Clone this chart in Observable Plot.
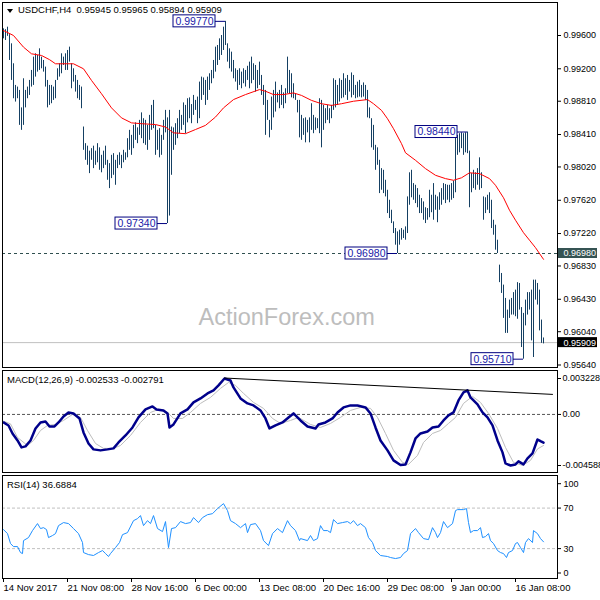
<!DOCTYPE html>
<html><head><meta charset="utf-8">
<script src="https://cdn.jsdelivr.net/npm/d3@7"></script>
<script src="https://cdn.jsdelivr.net/npm/@observablehq/plot@0.6"></script>
<style>
body{margin:0;background:#fff;}
#wrap{position:relative;width:600px;height:600px;overflow:hidden;background:#fff;font-family:"Liberation Sans",Arial,sans-serif;}
#wrap svg{position:absolute;left:0;overflow:visible;}
.lbl{position:absolute;font-size:9.5px;line-height:12px;color:#000;white-space:pre;}
.tri{position:absolute;left:7px;top:9px;width:0;height:0;border-left:3px solid transparent;border-right:3px solid transparent;border-top:4px solid #000;}
</style></head><body><div id="wrap"></div>
<script>
// ---- DATA ----
const barHigh = [
0.9968,0.9967,0.9970,0.9961,0.9950,0.9926,0.9900,0.9898,0.9894,0.9873,
0.9908,0.9894,0.9898,0.9906,0.9918,0.9934,0.9938,0.9936,0.9944,0.9934,
0.9930,0.9922,0.9906,0.9900,0.9900,0.9898,0.9906,0.9920,0.9926,0.9938,
0.9934,0.9938,0.9942,0.9946,0.9926,0.9920,0.9912,0.9906,0.9900,0.9898,
0.9850,0.9830,0.9827,0.9821,0.9824,0.9827,0.9821,0.9830,0.9825,0.9816,
0.9821,0.9827,0.9810,0.9806,0.9816,0.9818,0.9810,0.9816,0.9819,0.9816,
0.9822,0.9819,0.9836,0.9846,0.9840,0.9852,0.9855,0.9849,0.9858,0.9867,
0.9860,0.9858,0.9852,0.9864,0.9876,0.9882,0.9852,0.9846,0.9848,0.9840,
0.9858,0.9870,0.9861,0.9870,0.9850,0.9849,0.9854,0.9860,0.9870,0.9864,
0.9879,0.9876,0.9884,0.9885,0.9877,0.9888,0.9882,0.9886,0.9904,0.9910,
0.9909,0.9906,0.9910,0.9914,0.9918,0.9930,0.9946,0.9948,0.9956,0.9960,
0.9970,0.9977,0.9950,0.9944,0.9940,0.9930,0.9920,0.9918,0.9920,0.9916,
0.9920,0.9918,0.9923,0.9928,0.9934,0.9926,0.9924,0.9918,0.9928,0.9912,
0.9900,0.9894,0.9882,0.9858,0.9886,0.9894,0.9904,0.9891,0.9894,0.9900,
0.9891,0.9896,0.9934,0.9918,0.9914,0.9902,0.9890,0.9882,0.9882,0.9864,
0.9860,0.9861,0.9858,0.9861,0.9878,0.9864,0.9861,0.9860,0.9884,0.9882,
0.9876,0.9872,0.9876,0.9872,0.9876,0.9908,0.9906,0.9900,0.9908,0.9906,
0.9914,0.9908,0.9912,0.9906,0.9915,0.9912,0.9900,0.9904,0.9906,0.9900,
0.9903,0.9900,0.9894,0.9873,0.9860,0.9852,0.9828,0.9825,0.9810,0.9800,
0.9798,0.9786,0.9774,0.9762,0.9750,0.9736,0.9728,0.9724,0.9726,0.9728,
0.9726,0.9730,0.9766,0.9795,0.9798,0.9782,0.9780,0.9776,0.9768,0.9764,
0.9760,0.9753,0.9752,0.9774,0.9768,0.9782,0.9768,0.9766,0.9771,0.9776,
0.9782,0.9781,0.9780,0.9780,0.9782,0.9785,0.9837,0.9840,0.9842,0.9843,
0.9842,0.9843,0.9844,0.9821,0.9794,0.9798,0.9795,0.9800,0.9813,0.9795,
0.9766,0.9765,0.9768,0.9771,0.9762,0.9738,0.9732,0.9714,0.9684,0.9674,
0.9660,0.9644,0.9630,0.9642,0.9644,0.9651,0.9654,0.9663,0.9662,0.9633,
0.9626,0.9642,0.9651,0.9651,0.9654,0.9666,0.9666,0.9662,0.9654,0.9618,0.95965
];
const barLow = [
0.9956,0.9954,0.9959,0.9930,0.9906,0.9884,0.9880,0.9884,0.9852,0.9846,
0.9852,0.9873,0.9884,0.9888,0.9898,0.9900,0.9910,0.9916,0.9918,0.9920,
0.9916,0.9898,0.9873,0.9876,0.9878,0.9882,0.9884,0.9906,0.9910,0.9914,
0.9924,0.9918,0.9918,0.9928,0.9896,0.9904,0.9892,0.9884,0.9882,0.9872,
0.9822,0.9810,0.9804,0.9794,0.9810,0.9800,0.9804,0.9807,0.9798,0.9795,
0.9800,0.9804,0.9786,0.9776,0.9788,0.9792,0.9780,0.9800,0.9804,0.9800,
0.9807,0.9810,0.9813,0.9822,0.9816,0.9824,0.9834,0.9830,0.9840,0.9836,
0.9830,0.9828,0.9822,0.9834,0.9846,0.9848,0.9816,0.9822,0.9813,0.9816,
0.9834,0.9843,0.9734,0.9743,0.9792,0.9822,0.9828,0.9836,0.9842,0.9846,
0.9852,0.9842,0.9855,0.9860,0.9854,0.9864,0.9870,0.9854,0.9860,0.9882,
0.9888,0.9876,0.9882,0.9894,0.9902,0.9908,0.9916,0.9924,0.9930,0.9936,
0.9942,0.9948,0.9928,0.9920,0.9916,0.9908,0.9904,0.9894,0.9900,0.9896,
0.9902,0.9898,0.9906,0.9896,0.9902,0.9906,0.9892,0.9896,0.9900,0.9888,
0.9876,0.9840,0.9858,0.9837,0.9846,0.9861,0.9868,0.9879,0.9872,0.9876,
0.9872,0.9878,0.9890,0.9890,0.9885,0.9884,0.9882,0.9867,0.9837,0.9834,
0.9840,0.9831,0.9843,0.9831,0.9846,0.9842,0.9846,0.9848,0.9842,0.9825,
0.9846,0.9854,0.9858,0.9854,0.9860,0.9870,0.9873,0.9876,0.9880,0.9884,
0.9885,0.9888,0.9882,0.9892,0.9885,0.9888,0.9884,0.9885,0.9886,0.9885,
0.9886,0.9882,0.9861,0.9860,0.9825,0.9822,0.9798,0.9804,0.9770,0.9774,
0.9770,0.9766,0.9746,0.9740,0.9734,0.9722,0.9708,0.9698,0.9708,0.9714,
0.9716,0.9714,0.9722,0.9756,0.9765,0.9762,0.9758,0.9753,0.9746,0.9746,
0.9738,0.9734,0.9738,0.9741,0.9747,0.9738,0.9750,0.9735,0.9750,0.9756,
0.9762,0.9758,0.9762,0.9759,0.9762,0.9764,0.9771,0.9816,0.9819,0.9824,
0.9816,0.9819,0.9818,0.9753,0.9771,0.9776,0.9774,0.9780,0.9774,0.9776,
0.9738,0.9746,0.9750,0.9746,0.9728,0.9720,0.9702,0.9698,0.9663,0.9650,
0.9620,0.9602,0.9602,0.9620,0.9624,0.9624,0.9622,0.9619,0.9630,0.9585,
0.9571,0.9611,0.9624,0.9630,0.9593,0.9573,0.9642,0.9636,0.9605,0.9590,0.95894
];
// moving average points [bar index, price]
const maPoints = [[0,0.9966],[5,0.9960],[10,0.9946],[14,0.9938],[19,0.9936],[23,0.9931],[26,0.9926],[35,0.9926],[40,0.9920],[44,0.9906],[49,0.9890],[54,0.9873],[59,0.9861],[64,0.9855],[69,0.9854],[76,0.9853],[81,0.9850],[85,0.9843],[91,0.9842],[96,0.9847],[101,0.9852],[106,0.9862],[110,0.9873],[115,0.9883],[121,0.9889],[128,0.9895],[131,0.9893],[135,0.9889],[140,0.9889],[145,0.9891],[149,0.9888],[154,0.9882],[159,0.9878],[164,0.9876],[169,0.9878],[175,0.9881],[182,0.9883],[185,0.9878],[189,0.9870],[192,0.9860],[195,0.9848],[199,0.9830],[201,0.9819],[206,0.9810],[211,0.9800],[216,0.9792],[221,0.9788],[225,0.9786],[229,0.9789],[233,0.9795],[238,0.9794],[243,0.9788],[246,0.9780],[250,0.9765],[253,0.9750],[256,0.9738],[260,0.9723],[263,0.9714],[266,0.9705],[270,0.9691]];
const yTicks = [0.9960,0.9920,0.9881,0.9841,0.9802,0.9762,0.9722,0.9683,0.9643,0.9604,0.9564];
const levelLine = 0.9698;
const lastClose = 0.95909;
const callouts = [{i:111,price:0.9977},{i:82,price:0.9734},{i:197,price:0.9698},{i:232,price:0.9844},{i:260,price:0.9571}];
const tags = [{price:0.9698,bg:"#355353"},{price:0.95909,bg:"#000000"}];

const macdLine = [[0,-0.00072],[2.5,-0.00099],[4.5,-0.00171],[7,-0.00234],[9,-0.00296],[11,-0.00287],[13.5,-0.00234],[16,-0.00126],[18.5,-0.00072],[21,-0.00063],[23,-0.00108],[25.5,-0.00108],[27.5,-0.00072],[30,-0.00018],[32.5,0.00018],[35,0.00009],[38,-0.00036],[40,-0.00162],[42.5,-0.00261],[45,-0.00314],[48.5,-0.00323],[52,-0.00314],[55,-0.00305],[57.5,-0.00252],[61,-0.00189],[64.5,-0.00117],[67.5,-0.00027],[71,0.00045],[74.5,0.00072],[76.5,0.00045],[80,0.00036],[82,0.00009],[83,-0.00117],[85,-0.00090],[88.5,0.00009],[92,0.00045],[95,0.00108],[98.5,0.00144],[102,0.00189],[105,0.00216],[107.5,0.00261],[110.5,0.003228],[113.5,0.00305],[115,0.00243],[118.5,0.00144],[122,0.00099],[125,0.00081],[128.5,0.00036],[131,-0.00036],[133,-0.00126],[136,-0.00099],[139.5,-0.00072],[142.5,-0.00027],[145,0.00009],[147.5,-0.00036],[148.5,-0.00054],[152,-0.00108],[156,-0.00126],[157.5,-0.00090],[161,-0.00072],[164.5,-0.00036],[167,0.00018],[170,0.00063],[173.5,0.00081],[177,0.00081],[181,0.00063],[183.5,0.00009],[186,-0.00117],[188.5,-0.00234],[192,-0.00323],[195,-0.00413],[198.5,-0.00455],[201,-0.00449],[203.5,-0.00341],[206,-0.00216],[208.5,-0.00171],[212,-0.00153],[214.5,-0.00117],[217.5,-0.00108],[220,-0.00054],[222.5,-0.00009],[225,0.00018],[227.5,0.00126],[230,0.00198],[232,0.00216],[233.5,0.00153],[237,0.00090],[239.5,0.00018],[242,-0.00027],[244.5,-0.00099],[247,-0.00234],[249.5,-0.00341],[251,-0.00440],[253.5,-0.004588],[256,-0.00449],[257.5,-0.00422],[260,-0.00449],[262,-0.00395],[264.5,-0.00350],[267,-0.00225],[268.5,-0.00240],[270,-0.002533]];
const signalLine = [[0,-0.0006],[3.5,-0.00085],[7,-0.00207],[12,-0.00279],[15,-0.00234],[18.5,-0.00144],[22,-0.00099],[26,-0.00090],[30,-0.00054],[34.5,0.0],[38.5,-0.00027],[42,-0.00144],[46,-0.00261],[50,-0.00305],[55,-0.00305],[58.5,-0.00279],[63.5,-0.00189],[68.5,-0.00072],[73.5,0.00018],[77.5,0.00045],[82,0.00018],[85,-0.00036],[89.5,-0.00036],[93.5,0.00018],[98.5,0.00099],[103.5,0.00153],[108.5,0.00234],[112.5,0.00287],[116,0.00261],[120,0.00189],[125,0.00108],[130,0.00054],[134.5,-0.00036],[138.5,-0.00081],[143.5,-0.00054],[147.5,-0.00027],[153.5,-0.00090],[158.5,-0.00117],[163.5,-0.00081],[168.5,-0.00027],[173.5,0.00036],[178.5,0.00063],[183.5,0.00054],[187,-0.00027],[191,-0.00171],[195,-0.00323],[199.5,-0.00431],[202.5,-0.00449],[207,-0.00368],[210,-0.00252],[214.5,-0.00171],[218.5,-0.00144],[222.5,-0.00081],[226,-0.00027],[230,0.00099],[234.5,0.00162],[238.5,0.00108],[242.5,0.00009],[247,-0.00126],[251,-0.00297],[255,-0.00431],[259.5,-0.00458],[263.5,-0.00413],[267,-0.00310],[270,-0.002791]];
const trendLine = [[110.5,0.00327],[274.5,0.0018]];
const macdTicks = [0.003228, 0, -0.004588];
const macdTickLabels = ["0.003228", "0.00", "-0.004588"];

const rsiLine = [[0,48.8],[2,44.8],[3.5,35.0],[5,32.0],[7,32.0],[8.5,26.1],[9.5,25.1],[10,37.9],[12.5,40.9],[14.5,47.8],[17,54.7],[18.5,49.8],[20,50.7],[21.5,48.8],[22.5,40.9],[24.5,42.9],[26,44.8],[27.5,52.7],[30,55.7],[32.5,54.7],[35,49.8],[37.5,44.8],[39.5,36.0],[40,26.1],[42.5,24.1],[45,23.2],[47.5,26.1],[49.5,28.1],[51,25.1],[52.5,22.2],[53.5,25.1],[56,31.0],[58,36.0],[59.5,43.8],[62,45.8],[65,57.6],[67,59.6],[68.5,62.6],[70,52.7],[72,57.6],[73.5,54.7],[75,62.6],[77,49.8],[79.5,46.8],[81,56.7],[82.5,31.0],[84,49.8],[86,50.7],[88.5,56.7],[91,54.7],[93.5,55.7],[95,60.6],[97.5,55.7],[99.5,60.6],[102,63.5],[104.5,64.5],[107,69.5],[110,74.4],[112,67.5],[113.5,57.6],[116,54.7],[118.5,50.7],[121,54.7],[122,45.8],[123.5,53.7],[126,54.7],[128.5,47.8],[130,37.9],[132.5,33.0],[134.5,44.8],[137,49.8],[139.5,45.8],[142,57.6],[143.5,52.7],[146,47.8],[148,37.9],[148.5,39.9],[152,37.9],[153.5,42.9],[155,37.9],[157,39.9],[158.5,52.7],[160,47.8],[162,47.8],[163.5,45.8],[165,58.6],[167,54.7],[169.5,55.7],[172,56.7],[173.5,54.7],[175,57.6],[177,52.7],[178.5,54.7],[181,50.7],[182.5,40.9],[184.5,36.0],[186,28.1],[188.5,23.2],[192,22.2],[193.5,21.2],[196,20.2],[198.5,21.2],[200,25.1],[202,28.1],[203.5,44.8],[206,49.8],[207.5,45.8],[210,39.9],[212.5,38.9],[214.5,50.7],[216,45.8],[217,40.9],[218.5,45.8],[220,56.7],[222,50.7],[224.5,54.7],[226,67.5],[227,68.5],[230,68.5],[231.5,69.5],[232.5,55.7],[233.5,45.8],[235,47.8],[237,47.8],[238.5,50.7],[239.5,40.9],[241,41.9],[242.5,44.8],[243.5,37.9],[245,35.0],[247,28.1],[248.5,26.1],[250,25.1],[251.5,21.2],[252.5,26.1],[254.5,28.1],[256,35.0],[257,36.0],[258.5,31.0],[260,26.1],[261,36.0],[262.5,39.9],[264.5,36.0],[265,47.8],[267,44.8],[268.5,39.9],[270,36.69]];
const rsiLevels = [70, 30];

const xTickIdx = [0,32,64,96,128,160,192,224,256];
const xTickLabels = ["14 Nov 2017","21 Nov 08:00","28 Nov 16:00","6 Dec 00:00","13 Dec 08:00","20 Dec 16:00","29 Dec 08:00","9 Jan 00:00","16 Jan 08:00"];

const titleText = "USDCHF,H4  0.95945 0.95965 0.95894 0.95909";
const macdTitle = "MACD(12,26,9) -0.002533 -0.002791";
const rsiTitle = "RSI(14) 36.6884";
const watermark = "ActionForex.com";

// ---- DRAW ----
const font = '"Liberation Sans", Arial, sans-serif';
const n = barHigh.length;
const bars = barHigh.map((h, i) => ({i, high: h, low: barLow[i]}));
const W = 600, mL = 2, mR = 43;
const frameW = W - mL - mR;
const xCfg = {domain: [0, n - 1], range: [3, 3 + 2 * (n - 1)], axis: null};
const f5 = d3.format(".5f");
const st = {fontFamily: font, fontSize: "9.5px", background: "transparent", overflow: "visible"};
const axFont = 9;
const px = d => d[0], py = d => d[1];

const main = Plot.plot({
  width: W, height: 368, marginLeft: mL, marginRight: mR, marginTop: 2, marginBottom: 1,
  style: st, color: {type: "identity"},
  x: xCfg,
  y: {domain: [0.9564, 0.9960], range: [364.5, 35]},
  marks: [
    Plot.text([watermark], {text: d => d, frameAnchor: "top-left", dx: 196, dy: 305.5, textAnchor: "start", fontSize: 23.5, fill: "#bdbdbd"}),
    Plot.ruleY([lastClose], {stroke: "#c0c0c0"}),
    Plot.ruleY([levelLine], {stroke: "#2f4f4f", strokeDasharray: "3,3"}),
    Plot.ruleX(bars, {x: "i", y1: "low", y2: "high", stroke: "#154063", strokeWidth: 1}),
    Plot.line(maPoints, {x: px, y: py, stroke: "#ff0000", strokeWidth: 1}),
    Plot.ruleY(callouts, {y: "price", x1: "i", x2: "i", insetLeft: -10, stroke: "#000080"}),
    Plot.rect(callouts, {x1: "i", x2: "i", y1: "price", y2: "price", insetLeft: -52, insetRight: 10, insetTop: -6, insetBottom: -6, fill: "white", stroke: "#000080"}),
    Plot.text(callouts, {x: "i", y: "price", text: d => f5(d.price), dx: -31, fill: "#1a1aa8", fontSize: 10.5}),
    Plot.axisY({anchor: "right", ticks: yTicks, tickFormat: f5, tickSize: 3, tickPadding: 3, fontSize: axFont, label: null}),
    Plot.rect(tags, {y1: "price", y2: "price", insetLeft: frameW + 1, insetRight: -40, insetTop: -5, insetBottom: -5, fill: "bg"}),
    Plot.text(tags, {y: "price", text: d => f5(d.price), frameAnchor: "right", textAnchor: "start", dx: 6, fill: "white", fontSize: axFont}),
    Plot.frame({stroke: "#000"})
  ]
});

const macdPlot = Plot.plot({
  width: W, height: 106, marginLeft: mL, marginRight: mR, marginTop: 2, marginBottom: 2,
  style: st,
  x: xCfg,
  y: {domain: [macdTicks[2], macdTicks[0]], range: [97, 10]},
  marks: [
    Plot.ruleY([0], {stroke: "#555", strokeDasharray: "3,2"}),
    Plot.line(signalLine, {x: px, y: py, stroke: "#bdbdbd", strokeWidth: 1}),
    Plot.line(macdLine, {x: px, y: py, stroke: "#00008b", strokeWidth: 2.5, strokeLinejoin: "round"}),
    Plot.line(trendLine, {x: px, y: py, stroke: "#000", strokeWidth: 1}),
    Plot.axisY({anchor: "right", ticks: macdTicks, tickFormat: d => macdTickLabels[macdTicks.indexOf(d)], tickSize: 3, tickPadding: 2, fontSize: axFont, label: null}),
    Plot.frame({stroke: "#000"})
  ]
});

const rsiPlot = Plot.plot({
  width: W, height: 126, marginLeft: mL, marginRight: mR, marginTop: 1, marginBottom: 22,
  style: st,
  x: xCfg,
  y: {domain: [0, 100], range: [104.5, 3.2]},
  marks: [
    Plot.ruleY(rsiLevels, {stroke: "#c0c0c0", strokeDasharray: "3,2"}),
    Plot.line(rsiLine, {x: px, y: py, stroke: "#1e90ff", strokeWidth: 1}),
    Plot.axisY({anchor: "right", ticks: rsiLevels, tickFormat: d => String(d), tickSize: 3, tickPadding: 3, fontSize: axFont, label: null}),
    Plot.axisY({anchor: "right", ticks: [100], tickFormat: d => String(d), tickSize: 3, tickPadding: 3, dy: 6, fontSize: axFont, label: null}),
    Plot.axisY({anchor: "right", ticks: [0], tickFormat: d => String(d), tickSize: 3, tickPadding: 3, dy: -6, fontSize: axFont, label: null}),
    Plot.axisX({ticks: xTickIdx, tickFormat: d => xTickLabels[xTickIdx.indexOf(d)], tickSize: 4, tickPadding: 2, textAnchor: "start", label: null}),
    Plot.frame({stroke: "#000"})
  ]
});

const wrap = document.getElementById("wrap");
main.style.top = "0px";
macdPlot.style.top = "368px";
rsiPlot.style.top = "474px";
wrap.append(rsiPlot, macdPlot, main);

function addLabel(text, left, top) {
  const d = document.createElement("div");
  d.className = "lbl";
  d.style.left = left + "px";
  d.style.top = top + "px";
  d.textContent = text;
  wrap.append(d);
}
const tri = document.createElement("div");
tri.className = "tri";
wrap.append(tri);
addLabel(titleText, 18, 4);
addLabel(macdTitle, 7, 374);
addLabel(rsiTitle, 7, 479);
</script></body></html>
